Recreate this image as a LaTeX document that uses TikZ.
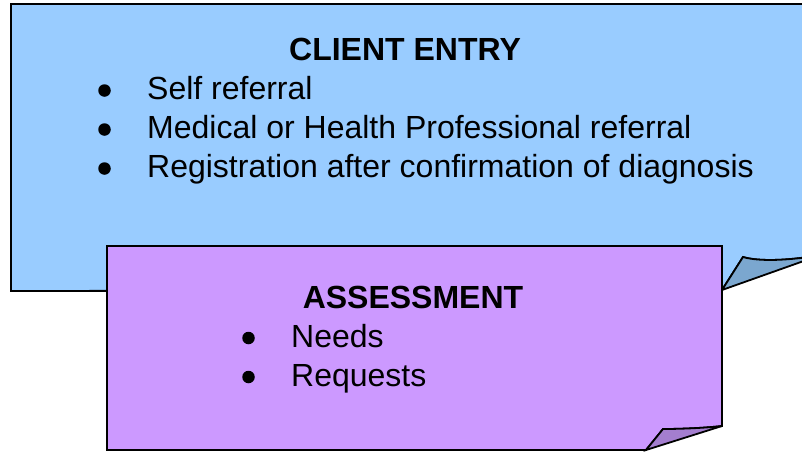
\documentclass[tikz,border=0pt]{standalone}
\usepackage{fontspec}
\setmainfont{Liberation Sans}
\begin{document}
\begin{tikzpicture}[x=1pt,y=-1pt,
  outline/.style={draw=black, line width=1.8pt, line join=miter},
  txt/.style={inner sep=0pt, anchor=base west, font=\fontsize{32}{38}\selectfont},
  head/.style={inner sep=0pt, anchor=base, font=\fontsize{32}{38}\selectfont\bfseries},
  bul/.style={circle, fill=black, inner sep=0pt, minimum size=12.5pt}]
\definecolor{cblue}{HTML}{99CCFF}
\definecolor{cbluef}{HTML}{7BA7CF}
\definecolor{cpurp}{HTML}{CC99FF}
\definecolor{cpurpf}{HTML}{A47ECF}
\useasboundingbox (0,0) rectangle (802,451);
\clip (0,0) rectangle (802,451);
% client entry box
\draw[outline, fill=cblue] (11,4) -- (815,4) -- (815,256)
  .. controls (790,260) and (760,262) .. (743,257) -- (722,290) -- (11,291) -- cycle;
\draw[outline, fill=cbluef] (722,290) -- (743,257)
  .. controls (760,262) and (790,260) .. (815,256) -- (815,257) -- cycle;
% assessment box
\draw[outline, fill=cpurp] (107,246) -- (722,246) -- (722,426)
  .. controls (705,428) and (680,429) .. (663,429) -- (646,450) -- (107,450) -- cycle;
\draw[outline, fill=cpurpf] (722,426) .. controls (705,428) and (680,429) .. (663,429)
  -- (646,450) -- cycle;
% texts
\node[head] (h1) at (405,60) {CLIENT ENTRY};
\node[bul] (b1) at (104.5,90.5) {};
\node[bul] (b2) at (104.5,129.5) {};
\node[bul] (b3) at (104.5,168.5) {};
\node[txt] (t1) at (147,99) {Self referral};
\node[txt] (t2) at (147,138) {Medical or Health Professional referral};
\node[txt] (t3) at (147,177) {Registration after confirmation of diagnosis};
\node[head] (h2) at (413,308) {ASSESSMENT};
\node[bul] (b4) at (248.5,338) {};
\node[bul] (b5) at (248.5,377) {};
\node[txt] (t4) at (291,347) {Needs};
\node[txt] (t5) at (291,386) {Requests};
\end{tikzpicture}
\end{document}
